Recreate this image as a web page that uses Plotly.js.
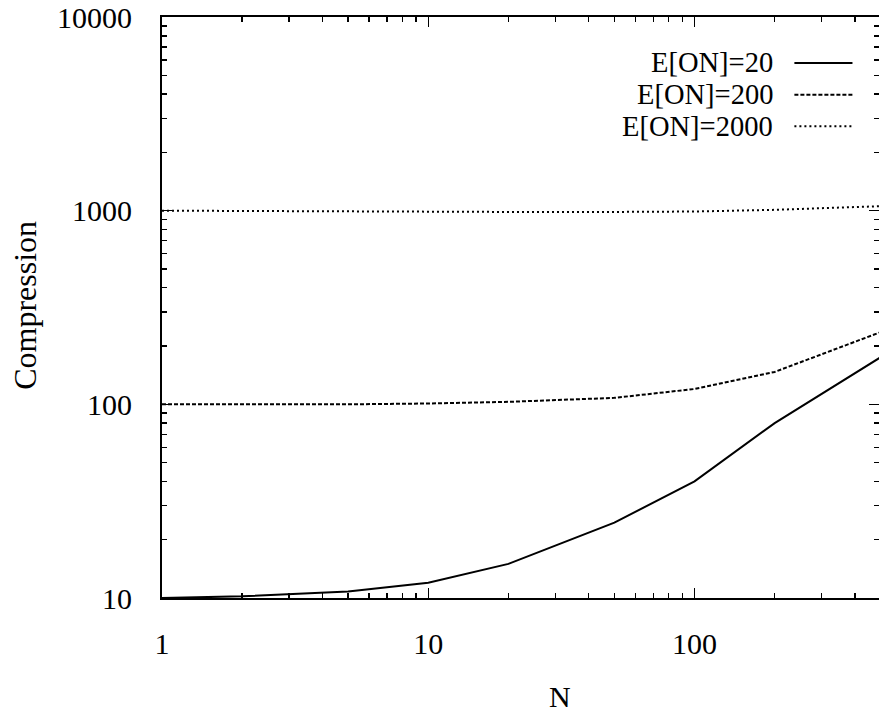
<!DOCTYPE html>
<html><head><meta charset="utf-8">
<script src="https://cdn.plot.ly/plotly-3.0.1.min.js"></script>
<style>body{margin:0;background:#fff}#chart{width:879px;height:713px}</style>
</head><body><div id="chart"></div>
<script>
const N = [1, 2, 5, 10, 20, 50, 100, 200, 500];
const seriesNames = ["E[ON]=20", "E[ON]=200", "E[ON]=2000"];
const on20 = [10, 10.2, 10.8, 12, 15, 24.5, 40, 80, 175];
const on200 = [100, 100, 100, 101, 103, 108, 120, 147, 236];
const on2000 = [1000, 995, 990, 985, 985, 985, 990, 1010, 1055];
const xTicks = [1, 10, 100];
const yTicks = [10, 100, 1000, 10000];
const xMinor = [2, 3, 4, 5, 6, 7, 8, 9, 20, 30, 40, 50, 60, 70, 80, 90, 200, 300, 400];
const yMinor = [20, 30, 40, 50, 60, 70, 80, 90, 200, 300, 400, 500, 600, 700, 800, 900,
                2000, 3000, 4000, 5000, 6000, 7000, 8000, 9000];
const xTitle = "N";
const yTitle = "Compression";

const dashes = ["solid", "4px,2px", "2px,3px"];
const series = [on20, on200, on2000];
const FONT = "'Liberation Serif', serif";

const traces = series.map((ys, i) => ({
  x: N, y: ys, type: "scatter", mode: "lines", name: seriesNames[i],
  line: {color: "#000", width: 2, dash: dashes[i]}, showlegend: false
}));

const annotations = [];
const shapes = [];
const legY = [0.921, 0.866, 0.812];
seriesNames.forEach((nm, i) => {
  annotations.push({xref: "paper", yref: "paper", x: 0.853, y: legY[i], text: nm,
    showarrow: false, xanchor: "right", yanchor: "middle", borderpad: 0,
    font: {family: FONT, size: 28.5, color: "#000"}});
  shapes.push({type: "line", xref: "paper", yref: "paper", x0: 0.882, x1: 0.963,
    y0: legY[i], y1: legY[i], line: {color: "#000", width: 2, dash: dashes[i]}});
});
annotations.push({xref: "paper", yref: "paper", x: -0.191, y: 0.503, text: yTitle,
  textangle: -90, showarrow: false, xanchor: "center", yanchor: "middle",
  font: {family: FONT, size: 32, color: "#000"}});
annotations.push({xref: "paper", yref: "paper", x: 0.555, y: -0.170, text: xTitle,
  showarrow: false, xanchor: "center", yanchor: "middle",
  font: {family: FONT, size: 30, color: "#000"}});

function axis(minorVals) {
  return {
    type: "log", showline: true, linecolor: "#000", linewidth: 2, mirror: "ticks",
    ticks: "inside", ticklen: 10, tickwidth: 1.5, tickcolor: "#000",
    showgrid: false, zeroline: false,
    minor: {tickmode: "array", tickvals: minorVals, ticks: "inside", ticklen: 5,
            tickwidth: 1.5, tickcolor: "#000", showgrid: false},
    tickfont: {family: FONT, size: 30, color: "#000"}
  };
}

const layout = {
  width: 879, height: 713,
  margin: {l: 162, r: 0, t: 17, b: 115},
  paper_bgcolor: "#fff", plot_bgcolor: "#fff",
  xaxis: Object.assign(axis(xMinor), {
    range: [0, Math.log10(493)], tickmode: "array", tickvals: xTicks, ticktext: xTicks.map(String),
    ticklabelstandoff: 18
  }),
  yaxis: Object.assign(axis(yMinor), {
    range: [1, 4], tickmode: "array", tickvals: yTicks, ticktext: yTicks.map(String),
    ticklabelstandoff: 22
  }),
  annotations: annotations, shapes: shapes, showlegend: false
};

Plotly.newPlot("chart", traces, layout, {staticPlot: true, displayModeBar: false});
</script></body></html>
